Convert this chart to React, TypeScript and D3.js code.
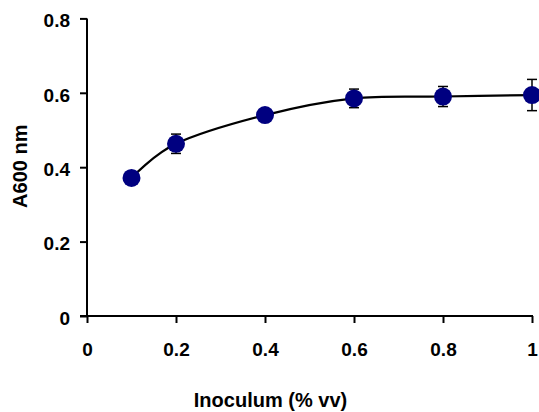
import React, { useRef, useEffect } from 'react';
import * as d3 from 'd3';

// values
const inoculum = [0.1, 0.2, 0.4, 0.6, 0.8, 1.0];
const absorbance = [0.371, 0.463, 0.54, 0.585, 0.59, 0.594];
const errors = [0.008, 0.026, 0.015, 0.025, 0.027, 0.042];
const xTicks = [0, 0.2, 0.4, 0.6, 0.8, 1];
const yTicks = [0, 0.2, 0.4, 0.6, 0.8];

function InoculumChart() {
    const ref = useRef<SVGSVGElement>(null);

    useEffect(() => {
        const width = 539;
        const height = 412;
        const font = "'Liberation Sans', Arial, sans-serif";

        const x = d3.scaleLinear([0, 1], [87, 532]);
        const y = d3.scaleLinear([0, 0.8], [316, 18.4]);

        const svg = d3.select(ref.current)
            .attr("width", width)
            .attr("height", height)
            .attr("viewBox", [0, 0, width, height] as any);
        svg.selectAll("*").remove();

        svg.append("rect").attr("width", width).attr("height", height).attr("fill", "white");

        // y axis
        const yAxis = d3.axisLeft(y).tickValues(yTicks).tickSize(7).tickSizeOuter(0)
            .tickFormat(d => d3.format("")(+d));
        svg.append("g")
            .attr("transform", `translate(${x(0)},0)`)
            .call(yAxis)
            .call(g => g.select(".domain").attr("stroke-width", 2).attr("d", `M0,${y(0) + 1}V${y(0.8)}`))
            .call(g => g.selectAll(".tick line").attr("stroke-width", 2))
            .call(g => g.selectAll(".tick text")
                .attr("x", -17)
                .attr("dy", "0.44em")
                .attr("font-family", font)
                .attr("font-weight", "bold")
                .attr("font-size", 19)
                .attr("fill", "black"));

        // x axis
        const xAxis = d3.axisBottom(x).tickValues(xTicks).tickSize(7).tickSizeOuter(0)
            .tickFormat(d => d3.format("")(+d));
        svg.append("g")
            .attr("transform", `translate(0,${y(0)})`)
            .call(xAxis)
            .call(g => g.select(".domain").attr("stroke-width", 2).attr("d", `M${x(0) - 7},0H${x(1) + 1}`))
            .call(g => g.selectAll(".tick line").attr("stroke-width", 2))
            .call(g => g.selectAll(".tick text")
                .attr("y", 40)
                .attr("dy", 0)
                .attr("font-family", font)
                .attr("font-weight", "bold")
                .attr("font-size", 19)
                .attr("fill", "black"));

        // axis titles
        svg.append("text")
            .attr("x", (x(0) + x(1)) / 2 - 39)
            .attr("y", 407)
            .attr("text-anchor", "middle")
            .attr("font-family", font)
            .attr("font-weight", "bold")
            .attr("font-size", 20)
            .text("Inoculum (% vv)");

        svg.append("text")
            .attr("transform", `translate(27,${y(0.4) - 1}) rotate(-90)`)
            .attr("text-anchor", "middle")
            .attr("font-family", font)
            .attr("font-weight", "bold")
            .attr("font-size", 20)
            .text("A600 nm");

        const pts = inoculum.map((v, i) => ({ x: v, y: absorbance[i], e: errors[i] }));

        // smoothed line
        const line = d3.line<any>()
            .x(d => x(d.x))
            .y(d => y(d.y))
            .curve(d3.curveCardinal.tension(0));
        svg.append("path")
            .attr("d", line(pts))
            .attr("fill", "none")
            .attr("stroke", "black")
            .attr("stroke-width", 2.2);

        // error bars
        const eb = svg.append("g").attr("stroke", "black").attr("stroke-width", 1.5);
        pts.forEach(d => {
            const cx = x(d.x);
            eb.append("line").attr("x1", cx).attr("x2", cx).attr("y1", y(d.y - d.e)).attr("y2", y(d.y + d.e));
            eb.append("line").attr("x1", cx - 5).attr("x2", cx + 5).attr("y1", y(d.y - d.e)).attr("y2", y(d.y - d.e));
            eb.append("line").attr("x1", cx - 5).attr("x2", cx + 5).attr("y1", y(d.y + d.e)).attr("y2", y(d.y + d.e));
        });

        // markers
        svg.append("g")
            .selectAll("circle")
            .data(pts)
            .join("circle")
            .attr("cx", d => x(d.x))
            .attr("cy", d => y(d.y))
            .attr("r", 9)
            .attr("fill", "#000080");
    }, []);

    return (
        <svg ref={ref} style={{ position: 'absolute', left: 0, top: 0 }}></svg>
    );
}

export default function App() {
    return <InoculumChart />;
}
